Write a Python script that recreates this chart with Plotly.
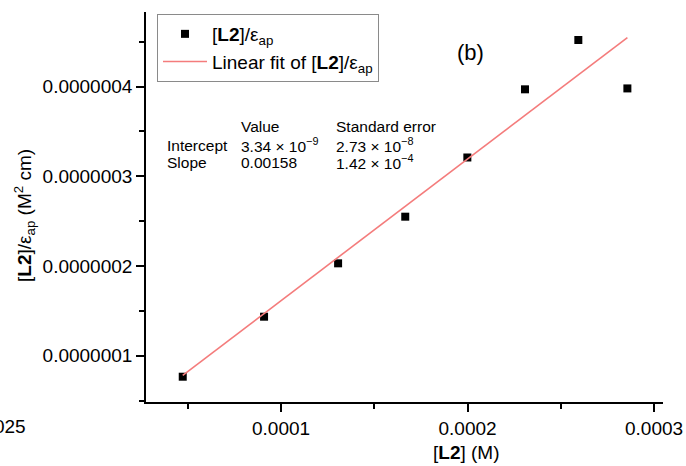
import plotly.graph_objects as go

# Data
conc_M = [4.73e-5, 9.09e-5, 1.306e-4, 1.666e-4, 1.999e-4, 2.308e-4, 2.594e-4, 2.857e-4]
ratio = [0.766e-7, 1.435e-7, 2.03e-7, 2.55e-7, 3.21e-7, 3.97e-7, 4.52e-7, 3.98e-7]
fit_intercept = 3.34e-9
fit_slope = 0.00158

x_tick_vals = [0.0001, 0.0002, 0.0003]
x_tick_text = ["0.0001", "0.0002", "0.0003"]
y_tick_vals = [1e-7, 2e-7, 3e-7, 4e-7]
y_tick_text = ["0.0000001", "0.0000002", "0.0000003", "0.0000004"]

fit_x = [conc_M[0], conc_M[-1]]
fit_y = [fit_intercept + fit_slope * v for v in fit_x]

FONT = "Liberation Sans, Arial, Helvetica, sans-serif"

fig = go.Figure()
fig.add_trace(go.Scatter(
    x=conc_M, y=ratio, mode="markers",
    marker=dict(symbol="square", size=8, color="black"),
    name="[<b>L2</b>]/ε<sub>ap</sub>",
))
fig.add_trace(go.Scatter(
    x=fit_x, y=fit_y, mode="lines",
    line=dict(color="#F47C7C", width=1.6),
    name="Linear fit of [<b>L2</b>]/ε<sub>ap</sub>",
))

L, R, T, B = 146, 663, 12, 402
W, H = R - L, B - T
def px(x):
    return (x - L) / W
def py(y):
    return (B - y) / H

annots = []
def txt(text, x, y, size, xanchor="left", angle=0):
    annots.append(dict(text=text, x=px(x), y=py(y), xref="paper", yref="paper",
                       xanchor=xanchor, yanchor="middle", showarrow=False,
                       textangle=angle, font=dict(size=size, color="black", family=FONT)))

ts = 15.5
txt("Value", 239, 127, ts)
txt("Standard error", 334, 127, ts)
txt("Intercept", 165, 145, ts)
txt("3.34 × 10<sup>−9</sup>", 239, 145, ts)
txt("2.73 × 10<sup>−8</sup>", 334, 145, ts)
txt("Slope", 165, 162, ts)
txt("0.00158", 239, 162, ts)
txt("1.42 × 10<sup>−4</sup>", 334, 162, ts)
txt("(b)", 470, 53, 22, xanchor="center")
txt("[<b>L2</b>] (M)", 466, 452, 19, xanchor="center")
txt("[<b>L2</b>]/ε<sub>ap</sub> (M<sup>2</sup> cm)", 25, 216, 19, xanchor="center", angle=-90)
txt("0.00025", 28, 426, 19, xanchor="right")

fig.update_layout(
    width=686, height=466,
    margin=dict(l=L, r=686 - R, t=T, b=466 - B),
    paper_bgcolor="white", plot_bgcolor="white",
    font=dict(family=FONT, size=19, color="black"),
    showlegend=True,
    legend=dict(x=px(157), y=py(14), xanchor="left", yanchor="top",
                bordercolor="#8a8a8a", borderwidth=1, bgcolor="white",
                font=dict(size=19, family=FONT), itemwidth=44,
                tracegroupgap=0),
    annotations=annots,
)
fig.update_xaxes(
    range=[2.76e-5, 3.048e-4], showgrid=False, zeroline=False, automargin=False,
    showline=True, linecolor="black", linewidth=1.6,
    ticks="outside", ticklen=8, tickwidth=1.5, tickcolor="black",
    tickvals=x_tick_vals, ticktext=x_tick_text, ticklabeloverflow="allow",
    minor=dict(tickmode="linear", tick0=0, dtick=0.5e-4, ticks="outside",
               ticklen=5, tickwidth=1.5, tickcolor="black"),
)
fig.update_yaxes(
    range=[0.484e-7, 4.832e-7], showgrid=False, zeroline=False, automargin=False,
    showline=True, linecolor="black", linewidth=1.6,
    ticks="outside", ticklen=8, tickwidth=1.5, tickcolor="black",
    tickvals=y_tick_vals, ticktext=y_tick_text, ticklabeloverflow="allow",
    minor=dict(tickmode="linear", tick0=0, dtick=0.5e-7, ticks="outside",
               ticklen=5, tickwidth=1.5, tickcolor="black"),
)

fig.write_html("out.html", config={"displayModeBar": False},
               post_script="document.body.style.margin='0';")
